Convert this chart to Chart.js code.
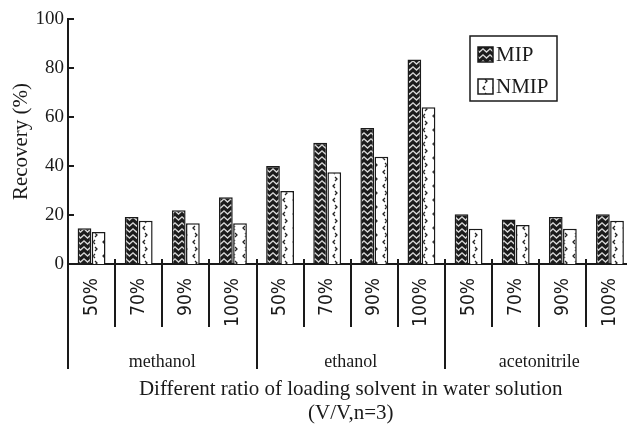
<!DOCTYPE html>
<html lang="en">
<head>
  <meta charset="UTF-8" />
  <title>Recovery</title>
  <script src="https://cdn.jsdelivr.net/npm/chart.js"></script>
  <style>
    html, body { margin: 0; padding: 0; background: #fff; overflow: hidden; }
    #wrap { width: 647px; height: 426px; }
  </style>
</head>
<body>
  <div id="wrap"><canvas id="grafico"></canvas></div>

  <script>
    // data
    const solvents = ['methanol', 'ethanol', 'acetonitrile'];
    const ratios = ['50%', '70%', '90%', '100%'];
    const mip  = [14.6, 19.2, 21.9, 27.2, 40.0, 49.5, 55.5, 83.5, 20.3, 18.2, 19.2, 20.3];
    const nmip = [13.1, 17.7, 16.6, 16.6, 29.8, 37.4, 43.8, 64.0, 14.4, 15.9, 14.4, 17.7];
    const yTicks = [0, 20, 40, 60, 80, 100];
    const seriesNames = ['MIP', 'NMIP'];
    const xTitle = ['Different ratio of loading solvent in water solution', '(V/V,n=3)'];
    const yTitle = 'Recovery (%)';

    const serif = '"Liberation Serif", "Times New Roman", serif';
    const ink = '#1a1a1a';

    // fill patterns
    function mipPattern() {
      const c = document.createElement('canvas');
      c.width = 7; c.height = 6;
      const g = c.getContext('2d');
      g.fillStyle = '#1c1c1c';
      g.fillRect(0, 0, 7, 6);
      g.strokeStyle = '#d8d8d8';
      g.lineWidth = 1.4;
      g.beginPath();
      g.moveTo(-0.5, 0.5); g.lineTo(3.5, 4); g.lineTo(7.5, 0.5);
      g.stroke();
      return g.createPattern(c, 'repeat');
    }
    function nmipPattern() {
      const c = document.createElement('canvas');
      c.width = 10; c.height = 14;
      const g = c.getContext('2d');
      g.fillStyle = '#ffffff';
      g.fillRect(0, 0, 10, 14);
      g.strokeStyle = '#222';
      g.lineWidth = 1.3;
      g.beginPath();
      g.moveTo(5, 2); g.lineTo(3, 4); g.lineTo(5, 6);
      g.moveTo(5, 9); g.lineTo(7, 11); g.lineTo(5, 13);
      g.stroke();
      return g.createPattern(c, 'repeat');
    }
    const fills = [mipPattern(), nmipPattern()];

    // separators, inward ticks, group names and boxed legend
    const extras = {
      id: 'extras',
      afterDraw(chart) {
        const { ctx, scales: { x, y } } = chart;
        const axisY = y.getPixelForValue(0);
        const half = (x.getPixelForValue(1) - x.getPixelForValue(0)) / 2;
        ctx.save();
        ctx.strokeStyle = ink;
        ctx.lineWidth = 2;
        ctx.beginPath();
        for (let i = 0; i <= mip.length; i++) {
          const px = Math.round(x.getPixelForValue(i) - half);
          const len = i % ratios.length === 0 ? 105 : 63;
          ctx.moveTo(px, axisY - 5);
          ctx.lineTo(px, axisY + len);
        }
        yTicks.forEach(v => {
          const py = Math.round(y.getPixelForValue(v));
          ctx.moveTo(x.left, py);
          ctx.lineTo(x.left + 6, py);
        });
        ctx.stroke();

        ctx.fillStyle = ink;
        ctx.font = '18px ' + serif;
        ctx.textAlign = 'center';
        ctx.textBaseline = 'middle';
        solvents.forEach((s, g) => {
          const first = g * ratios.length;
          const cx = (x.getPixelForValue(first) + x.getPixelForValue(first + ratios.length - 1)) / 2;
          ctx.fillText(s, cx, axisY + 98);
        });

        // legend
        ctx.lineWidth = 1.5;
        ctx.strokeRect(470, 36, 87, 65);
        ctx.font = '21px ' + serif;
        ctx.textAlign = 'left';
        chart.data.datasets.forEach((ds, k) => {
          const cy = 54 + k * 32;
          ctx.fillStyle = ds.backgroundColor;
          ctx.fillRect(478, cy - 7, 15, 15);
          ctx.strokeRect(478, cy - 7, 15, 15);
          ctx.fillStyle = ink;
          ctx.fillText(ds.label, 496, cy + 1);
        });
        ctx.restore();
      }
    };

    const ctx = document.getElementById('grafico').getContext('2d');
    new Chart(ctx, {
      type: 'bar',
      data: {
        labels: solvents.flatMap(() => ratios),
        datasets: [
          { label: seriesNames[0], data: mip, backgroundColor: fills[0], borderColor: ink, borderWidth: 1.5 },
          { label: seriesNames[1], data: nmip, backgroundColor: fills[1], borderColor: ink, borderWidth: 1.5 }
        ]
      },
      options: {
        responsive: true,
        maintainAspectRatio: false,
        animation: false,
        categoryPercentage: 0.6,
        barPercentage: 0.97,
        layout: { padding: { top: 19, right: 6 } },
        plugins: { legend: { display: false }, tooltip: { enabled: false } },
        scales: {
          x: {
            grid: { display: false, drawTicks: false },
            border: { color: ink, width: 2 },
            ticks: {
              autoSkip: false, minRotation: 90, maxRotation: 90, padding: 14, color: ink,
              font: { family: '"DejaVu Sans Condensed", "DejaVu Sans", sans-serif', size: 19 }
            },
            title: {
              display: true, text: xTitle, color: ink,
              font: { family: serif, size: 21, lineHeight: 1.15 },
              padding: { top: 0, bottom: 0 }
            },
            afterFit: s => { s.height = 162; }
          },
          y: {
            min: 0, max: 100,
            afterBuildTicks: s => { s.ticks = yTicks.map(v => ({ value: v })); },
            grid: { display: false, drawTicks: false },
            border: { color: ink, width: 2 },
            ticks: { padding: 4, color: ink, font: { family: serif, size: 19 } },
            title: {
              display: true, text: yTitle, color: ink,
              font: { family: serif, size: 21 },
              padding: { top: 9, bottom: 0 }
            },
            afterFit: s => { s.width = 68; }
          }
        }
      },
      plugins: [extras]
    });
  </script>
</body>
</html>
